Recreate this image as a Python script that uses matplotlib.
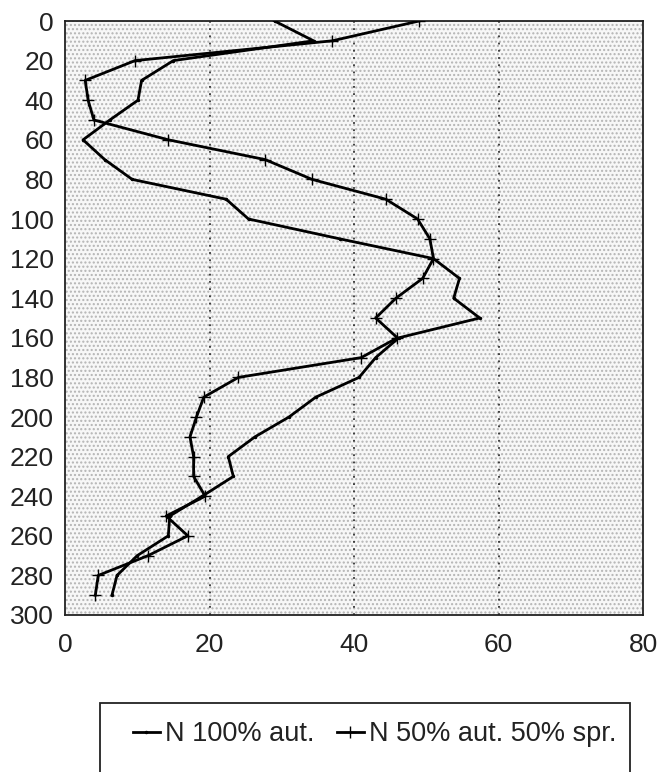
import matplotlib
matplotlib.use("Agg")
import matplotlib.pyplot as plt
from matplotlib.patches import Rectangle

plt.rcParams['font.family'] = ['Liberation Sans', 'DejaVu Sans']
plt.rcParams['hatch.linewidth'] = 1.0

# depth (cm) and N values
depth = [0, 10, 20, 30, 40, 50, 60, 70, 80, 90, 100, 110, 120, 130, 140,
         150, 160, 170, 180, 190, 200, 210, 220, 230, 240, 250, 260, 270, 280, 290]
n_full = [29, 34.4, 15, 10.6, 10.1, 6.2, 2.5, 5.5, 9.3, 22.3, 25.4, 38, 51, 54.6, 53.8,
          57.4, 46.2, 43, 40.7, 34.7, 31, 26.3, 22.6, 23.3, 19, 14.5, 14.3, 10, 7.2, 6.5]
n_half = [49, 37, 9.7, 2.8, 3.2, 4, 14.3, 27.7, 34.2, 44.4, 48.8, 50.5, 51, 49.5, 45.8,
          43, 46, 41, 24, 19.2, 18.2, 17.3, 17.8, 17.8, 19.4, 14, 17, 11.5, 4.6, 4.2]
labels = ["N 100% aut.", "N 50% aut. 50% spr."]

x_ticks = [0, 20, 40, 60, 80]
y_ticks = list(range(0, 301, 20))

fig = plt.figure(figsize=(6.65, 7.72), dpi=100)
ax = fig.add_axes([65/665, 1 - 615/772, 578/665, 594/772])

# stippled background like the scan
ax.add_patch(Rectangle((0, 0), 1, 1, transform=ax.transAxes, facecolor='#f7f7f7',
                       edgecolor='#b4b4b4', hatch='....', lw=0, zorder=0))

for gx in [20, 40, 60]:
    ax.axvline(gx, color='#333333', ls=(0, (1, 3)), lw=1.3, zorder=1)

l1, = ax.plot(n_full, depth, color='black', lw=2.0, marker='.', ms=3, zorder=3)
l2, = ax.plot(n_half, depth, color='black', lw=2.0, marker='+', ms=9, mew=1.0, zorder=3)

ax.set_xlim(0, 80)
ax.set_ylim(300, 0)
ax.set_xticks(x_ticks)
ax.set_yticks(y_ticks)
ax.tick_params(length=0, labelsize=19, colors='#222222')
ax.tick_params(axis='x', pad=13)
ax.tick_params(axis='y', pad=8)
for s in ax.spines.values():
    s.set_linewidth(1.3)
    s.set_color('#222222')

leg = fig.legend([l1, l2], labels, ncol=2, loc='center left',
                 bbox_to_anchor=(122/665, 1 - 734/772), frameon=False,
                 fontsize=19.5, handlelength=1.0, handletextpad=0.2,
                 columnspacing=0.8, borderaxespad=0)
for t in leg.get_texts():
    t.set_color('#222222')
fig.patches.append(Rectangle((100/665, -0.02), 530/665, (772 - 703)/772 + 0.02,
                             transform=fig.transFigure, fill=False, lw=1.3,
                             edgecolor='#222222'))

fig.savefig("out.png", dpi=100)
